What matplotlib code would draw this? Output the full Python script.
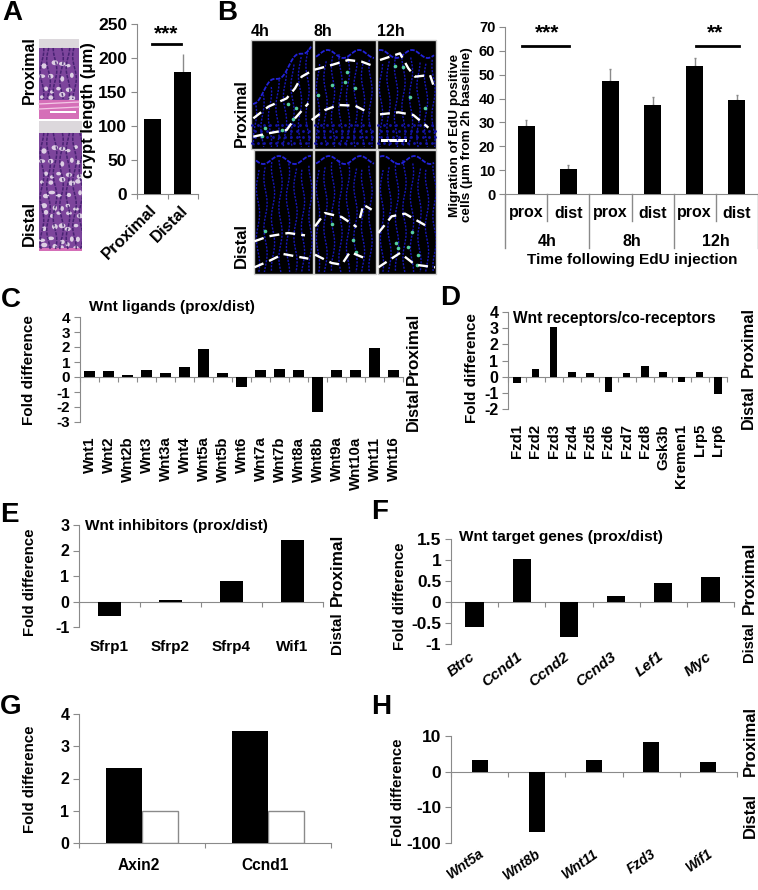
import numpy as np
import matplotlib
matplotlib.use("Agg")
import matplotlib.pyplot as plt
from matplotlib.patches import Rectangle, Ellipse
from matplotlib.ticker import FixedLocator, NullLocator
from matplotlib.transforms import Affine2D

plt.rcParams['font.family'] = ['Liberation Sans', 'DejaVu Sans']
plt.rcParams['font.weight'] = 'bold'
plt.rcParams['axes.unicode_minus'] = False

W, H = 758, 890
GRAY = '#8a8a8a'

# ---- data ----
a_cats = ['Proximal', 'Distal']
a_vals = [110, 180]
a_errs = [0, 26]
b_cats = ['prox', 'dist', 'prox', 'dist', 'prox', 'dist']
b_groups = ['4h', '8h', '12h']
b_vals = [28.7, 10.5, 47.3, 37.3, 53.6, 39.2]
b_errs = [2.2, 1.6, 5.0, 3.2, 3.6, 2.5]
c_cats = ['Wnt1', 'Wnt2', 'Wnt2b', 'Wnt3', 'Wnt3a', 'Wnt4', 'Wnt5a', 'Wnt5b', 'Wnt6', 'Wnt7a',
          'Wnt7b', 'Wnt8a', 'Wnt8b', 'Wnt9a', 'Wnt10a', 'Wnt11', 'Wnt16']
c_vals = [0.4, 0.37, 0.13, 0.45, 0.25, 0.65, 1.9, 0.25, -0.65, 0.45, 0.55, 0.5, -2.35, 0.45, 0.45, 1.95, 0.5]
d_cats = ['Fzd1', 'Fzd2', 'Fzd3', 'Fzd4', 'Fzd5', 'Fzd6', 'Fzd7', 'Fzd8', 'Gsk3b', 'Kremen1', 'Lrp5', 'Lrp6']
d_vals = [-0.42, 0.5, 3.1, 0.3, 0.25, -0.95, 0.22, 0.65, 0.3, -0.33, 0.28, -1.05]
e_cats = ['Sfrp1', 'Sfrp2', 'Sfrp4', 'Wif1']
e_vals = [-0.58, 0.04, 0.8, 2.42]
f_cats = ['Btrc', 'Ccnd1', 'Ccnd2', 'Ccnd3', 'Lef1', 'Myc']
f_vals = [-0.6, 1.02, -0.83, 0.15, 0.45, 0.6]
g_cats = ['Axin2', 'Ccnd1']
g_black = [2.33, 3.48]
g_white = [1, 1]
h_cats = ['Wnt5a', 'Wnt8b', 'Wnt11', 'Fzd3', 'Wif1']
h_vals = [3.3, -48, 3.4, 8.3, 2.7]

fig = plt.figure(figsize=(W / 100, H / 100), dpi=100, facecolor='white')


def T(x, y, s, size=10, rot=0, ha='center', va='center', **kw):
    fig.text(x / W, 1 - y / H, s, fontsize=size, rotation=rot, ha=ha, va=va, fontweight='bold', **kw)


def make_ax(l, r, top, bot, ylim, yticks, ylabels, cats, width, vals=None, zero=True, fs=10.5):
    ax = fig.add_axes([l / W, 1 - bot / H, (r - l) / W, (bot - top) / H])
    ax.patch.set_alpha(0)
    n = len(cats)
    ax.set_xlim(0, n)
    ax.set_ylim(*ylim)
    for s in ('top', 'right'):
        ax.spines[s].set_visible(False)
    ax.spines['left'].set_color(GRAY)
    ax.spines['bottom'].set_color(GRAY)
    if zero:
        ax.spines['bottom'].set_position(('data', 0))
    ax.set_yticks(yticks)
    ax.set_yticklabels(ylabels, fontsize=fs, fontweight='bold')
    ax.tick_params(axis='y', color=GRAY, length=4, pad=3)
    ax.set_xticks(np.arange(n + 1))
    ax.set_xticklabels([])
    ax.tick_params(axis='x', which='major', color=GRAY, length=3.5)
    ax.xaxis.set_minor_locator(FixedLocator(np.arange(n) + 0.5))
    ax.xaxis.set_tick_params(which='minor', length=0)
    if vals is not None:
        ax.bar(np.arange(n) + 0.5, vals, width=width, color='black', zorder=3)
    return ax


def xlabels(ax, cats, pad, size=9.5, rot=0, ha='center', style='normal', va='top', dx=0):
    ax.set_xticklabels(cats, minor=True, fontsize=size, rotation=rot, ha=ha, va=va,
                       rotation_mode='anchor', fontweight='bold', fontstyle=style)
    ax.tick_params(axis='x', which='minor', pad=pad)
    if dx:
        for lab in ax.get_xticklabels(minor=True):
            lab.set_transform(lab.get_transform() + Affine2D().translate(dx, 0))


# ---- photo layer (illustrative micrographs, not data) ----
ph = fig.add_axes([0, 0, 1, 1], zorder=0)
ph.set_xlim(0, W)
ph.set_ylim(H, 0)
ph.axis('off')


def he_panel(x0, x1, y0, y1, top_h, pink_from=None):
    clip = Rectangle((x0, y0), x1 - x0, y1 - y0, transform=ph.transData)
    ph.add_patch(Rectangle((x0, y0), x1 - x0, y1 - y0, fc='#7d459c', ec='none'))
    ph.add_patch(Rectangle((x0, y0), x1 - x0, top_h, fc='#dcd8dc', ec='none'))
    end = pink_from if pink_from else y1
    for i, yc in enumerate(np.arange(y0 + top_h + 16, end - 2, 6.5)):
        for j, xc in enumerate(np.arange(x0 + 5, x1 - 1, 8.5)):
            if (i * 3 + j * 5) % 5 not in (3, 4):
                e = Ellipse((xc + 2.4 * np.sin(i * 2.1 + j * 1.3), yc + 2 * np.cos(i + j * 2.3)),
                            5.2 + 1.5 * np.sin(i + j), 4.4 + np.cos(i * 2 + j),
                            fc='#e8dfec', ec='none', alpha=0.9)
                ph.add_patch(e)
                e.set_clip_path(clip)
    for i, xc in enumerate(np.arange(x0 + 3, x1, 6.5)):
        ys = np.linspace(y0 + top_h, end - 1, 30)
        xs = xc + 1.8 * np.sin((ys - y0) / 7 + i * 1.7)
        ph.plot(xs, ys, color='#3a1a68', lw=1.1, alpha=0.8, ls=(0, (2.2, 0.8)))[0].set_clip_path(clip)
    if pink_from:
        ph.add_patch(Rectangle((x0, pink_from), x1 - x0, y1 - pink_from, fc='#d56fb8', ec='none'))
        for yy in (pink_from + 4, pink_from + 9):
            ph.plot([x0, x1], [yy, yy - 2], color='#f3c7e6', lw=0.9)


he_panel(39, 79, 39, 119, 9, pink_from=100)
ph.add_patch(Rectangle((50, 110.5), 26, 2.5, fc='white', ec='none'))
he_panel(39, 82, 121, 251, 12)
ph.add_patch(Rectangle((39, 248), 43, 3, fc='#d56fb8', ec='none'))

if_panels = [(251, 313, 40, 149), (314, 376, 40, 149), (377, 436, 40, 149),
             (254, 313, 150, 274), (314, 376, 150, 274), (378, 436, 150, 274)]
for idx, (x0, x1, y0, y1) in enumerate(if_panels):
    r = Rectangle((x0, y0), x1 - x0, y1 - y0, fc='black', ec='#cfcfcf', lw=1.0)
    ph.add_patch(r)
    top = idx < 3
    start = y0 + (14 if top else 10)
    for i, xc in enumerate(np.arange(x0 + 4, x1 - 1, 7.5)):
        if idx == 0:
            t0 = y0 + 66 - 1.0 * (xc - x0)
        else:
            t0 = start + 5 + 5 * np.cos(i * 1.1)
        ys = np.linspace(t0, y1 - 2, 50)
        xs = xc + 1.6 * np.sin(ys / 8 + i * 1.3)
        ph.plot(xs, ys, color='#1616ba', lw=1.0, ls=(0, (1.5, 1.0)))[0].set_clip_path(r)
    sx = np.linspace(x0 + 2, x1 - 2, 60)
    if idx == 0:
        sy = y0 + 64 - 1.0 * (sx - x0) + 4 * np.sin((sx - x0) / 4)
    else:
        sy = start + 4 * np.sin((sx - x0) / 5 + idx * 2)
    ph.plot(sx, sy, color='#2222d8', lw=1.3, ls=(0, (2.5, 0.8)))[0].set_clip_path(r)
    if top:
        gx_, gy_ = np.meshgrid(np.arange(x0 + 3, x1, 6), np.arange(y1 - 24, y1 - 1, 6))
        ph.plot((gx_ + 2 * np.sin(gy_ * 1.7)).ravel(), gy_.ravel(), ls='none', marker='o', ms=2.0,
                color='#1414a8', mew=0)[0].set_clip_path(r)

green_x = [288, 296, 265, 262, 332, 347, 345, 355, 318, 395, 403, 410, 425, 293, 282, 265, 332, 353, 356, 396, 398, 408, 418, 412, 417]
green_y = [104, 108, 128, 136, 85, 72, 82, 88, 95, 66, 67, 97, 108, 119, 130, 231, 224, 240, 252, 243, 248, 247, 255, 232, 265]
ph.plot(green_x, green_y, ls='none', marker='o', ms=2.6, color='#5fe6b0', mew=0, alpha=0.9)

z8 = [[(25, 250), (70, 215), (125, 190), (150, 160), (170, 125), (205, 105), (260, 90), (310, 75), (350, 80), (390, 95)],
      [(25, 305), (70, 295), (125, 285), (150, 250), (190, 205)],
      [(200, 255), (240, 225), (280, 210), (330, 212), (375, 235)],
      [(405, 75), (465, 55), (490, 100), (510, 125), (555, 120), (570, 165)],
      [(405, 238), (460, 232), (505, 240), (550, 278)]]
z9 = [[(28, 280), (70, 265), (130, 255), (180, 262)], [(28, 358), (70, 340), (115, 318), (190, 332)],
      [(210, 235), (240, 195), (290, 207), (335, 237)], [(345, 210), (355, 170), (380, 185)],
      [(210, 320), (260, 345), (290, 350), (315, 312), (370, 335)],
      [(400, 255), (440, 205), (480, 197), (555, 240)], [(400, 358), (465, 315), (510, 350), (570, 358)]]
for path in z8:
    p = np.array(path)
    ph.plot(245 + p[:, 0] / 3, 35 + p[:, 1] / 3, color='white', lw=1.7, ls=(0, (4.2, 2.6)))
for path in z9:
    p = np.array(path)
    ph.plot(245 + p[:, 0] / 3, 148 + p[:, 1] / 3, color='white', lw=1.7, ls=(0, (4.2, 2.6)))
ph.add_patch(Rectangle((381, 139), 26, 3, fc='white', ec='none'))

T(29, 70, 'Proximal', 11.5, 90)
T(29, 224, 'Distal', 12, 90)
T(260, 31, '4h', 11.5)
T(323, 31, '8h', 11.5)
T(391, 31, '12h', 11.5)
T(241, 113, 'Proximal', 11.5, 90)
T(241, 246, 'Distal', 12, 90)

# ---- A ----
axA = make_ax(137, 198, 24, 194, (0, 250), [0, 50, 100, 150, 200, 250],
              ['0', '50', '100', '150', '200', '250'], a_cats, 0.56, zero=False, fs=12.5)
axA.bar([0.5, 1.5], a_vals, width=0.56, color='black', zorder=3)
axA.errorbar([1.5], [a_vals[1]], yerr=[[0], [a_errs[1]]], color=GRAY, capsize=0, lw=1, zorder=2)
xlabels(axA, a_cats, 6, size=12, rot=45, ha='right', dx=-3)
axA.plot([0.49, 1.44], [220, 220], color='black', lw=2, clip_on=False)
T(166, 34, '***', 15)
T(88, 110, 'crypt length (μm)', 12, 90)

# ---- B ----
axB = make_ax(505, 758, 27, 194, (0, 70), np.arange(0, 71, 10), [str(v) for v in range(0, 71, 10)],
              b_cats, 0.4, vals=b_vals, zero=False, fs=10.5)
axB.errorbar(np.arange(6) + 0.5, b_vals, yerr=[[0] * 6, b_errs], color=GRAY, capsize=1, lw=1, ls='none', zorder=2)
axB.tick_params(axis='x', which='major', length=0)
tr = axB.get_xaxis_transform()
px_frac = lambda y: (194 - y) / (194 - 27)
for v in range(7):
    end = 248 if v % 2 == 0 else 221
    axB.plot([v, v], [0, px_frac(end)], transform=tr, color=GRAY, lw=1, clip_on=False)
for i, c in enumerate(b_cats):
    axB.text(i + 0.5, px_frac(213), c, transform=tr, ha='center', va='center', fontsize=11.5)
for i, c in enumerate(b_groups):
    axB.text(2 * i + 1, px_frac(241), c, transform=tr, ha='center', va='center', fontsize=11.5)
axB.plot([0.41, 1.52], [62, 62], color='black', lw=2)
axB.plot([4.52, 5.55], [62, 62], color='black', lw=2)
T(547, 33, '***', 15)
T(715, 33, '**', 15)
T(632, 260, 'Time following EdU injection', 11.1)
T(461, 135, 'Migration of EdU positive\ncells (μm from 2h baseline)', 9.7, 90, linespacing=1.1)

# ---- C ----
axC = make_ax(80, 403, 317, 422, (-3, 4), np.arange(-3, 5), [str(v) for v in range(-3, 5)], c_cats, 0.58,
              vals=c_vals, fs=11)
xlabels(axC, c_cats, 43, size=10.8, rot=90, ha='right', va='center')
T(89, 307, 'Wnt ligands (prox/dist)', 11, ha='left')
T(29, 370, 'Fold difference', 11, 90)
T(413, 349, 'Proximal', 12.3, 90)
T(413, 409, 'Distal', 11.5, 90)

# ---- D ----
axD = make_ax(508, 727, 312, 409, (-2, 4), np.arange(-2, 5), [str(v) for v in range(-2, 5)], d_cats, 0.4,
              vals=d_vals, fs=11.5)
xlabels(axD, d_cats, 34, size=10.8, rot=90, ha='right', va='center')
T(513, 318, 'Wnt receptors/co-receptors', 11.2, ha='left')
T(472, 368, 'Fold difference', 11, 90)
T(748, 342, 'Proximal', 12, 90)
T(748, 407, 'Distal', 11.5, 90)

# ---- E ----
axE = make_ax(79, 323, 525, 627, (-1, 3), np.arange(-1, 4), [str(v) for v in range(-1, 4)], e_cats, 0.39,
              vals=e_vals, fs=11.5)
xlabels(axE, e_cats, 33, size=11, va='center')
T(85, 526, 'Wnt inhibitors (prox/dist)', 11.1, ha='left')
T(30, 582, 'Fold difference', 10.8, 90)
T(337, 570, 'Proximal', 12.3, 90)
T(337, 633, 'Distal', 11, 90)

# ---- F ----
axF = make_ax(451, 734, 539, 644, (-1, 1.5), [-1, -0.5, 0, 0.5, 1, 1.5], ['-1', '-0.5', '0', '0.5', '1', '1.5'],
              f_cats, 0.39, vals=f_vals, fs=12.5)
xlabels(axF, f_cats, 38, size=11, rot=38, ha='right', style='italic', va='center', dx=-1)
T(459, 537, 'Wnt target genes (prox/dist)', 11.1, ha='left')
T(400, 596, 'Fold difference', 10.8, 90)
T(749, 578, 'Proximal', 12.3, 90)
T(749, 642, 'Distal', 10.5, 90)

# ---- G ----
axG = make_ax(79, 331, 714, 843, (0, 4), np.arange(0, 5), [str(v) for v in range(0, 5)], g_cats, 0.286,
              zero=False, fs=11.5)
gx = np.arange(2) + 0.5
axG.bar(gx - 0.143, g_black, width=0.286, color='black', zorder=3)
axG.bar(gx + 0.143, g_white, width=0.286, color='white', edgecolor=GRAY, lw=1, zorder=2)
xlabels(axG, g_cats, 16, size=11.2, va='center', dx=-3)
T(30, 779, 'Fold difference', 10.8, 90)

# ---- H ----
axH = make_ax(451, 737, 736, 843, (-100, 10), [-100, -10, 0, 10], ['-100', '-10', '0', '10'], h_cats, 0.28, fs=12.5)
axH.set_yscale('symlog', linthresh=10, linscale=0.9, base=10)
axH.set_ylim(-100, 10)
axH.yaxis.set_major_locator(FixedLocator([-100, -10, 0, 10]))
axH.set_yticklabels(['-100', '-10', '0', '10'], fontsize=12.5, fontweight='bold')
axH.yaxis.set_minor_locator(NullLocator())
axH.bar(np.arange(5) + 0.5, h_vals, width=0.28, color='black', zorder=3)
xlabels(axH, h_cats, 58, size=10, rot=35, ha='right', style='italic', va='center', dx=3)
T(398, 792, 'Fold difference', 10.8, 90)
T(750, 741, 'Proximal', 12, 90)
T(750, 815, 'Distal', 12, 90)

# ---- panel letters ----
for s, x, y in [('A', 2, 13), ('B', 217, 13), ('C', 1, 300), ('D', 440, 298), ('E', 0, 515),
                ('F', 371, 512), ('G', 0, 707), ('H', 371, 707)]:
    T(x, y, s, 20, ha='left')

fig.savefig('out.png', dpi=100)
